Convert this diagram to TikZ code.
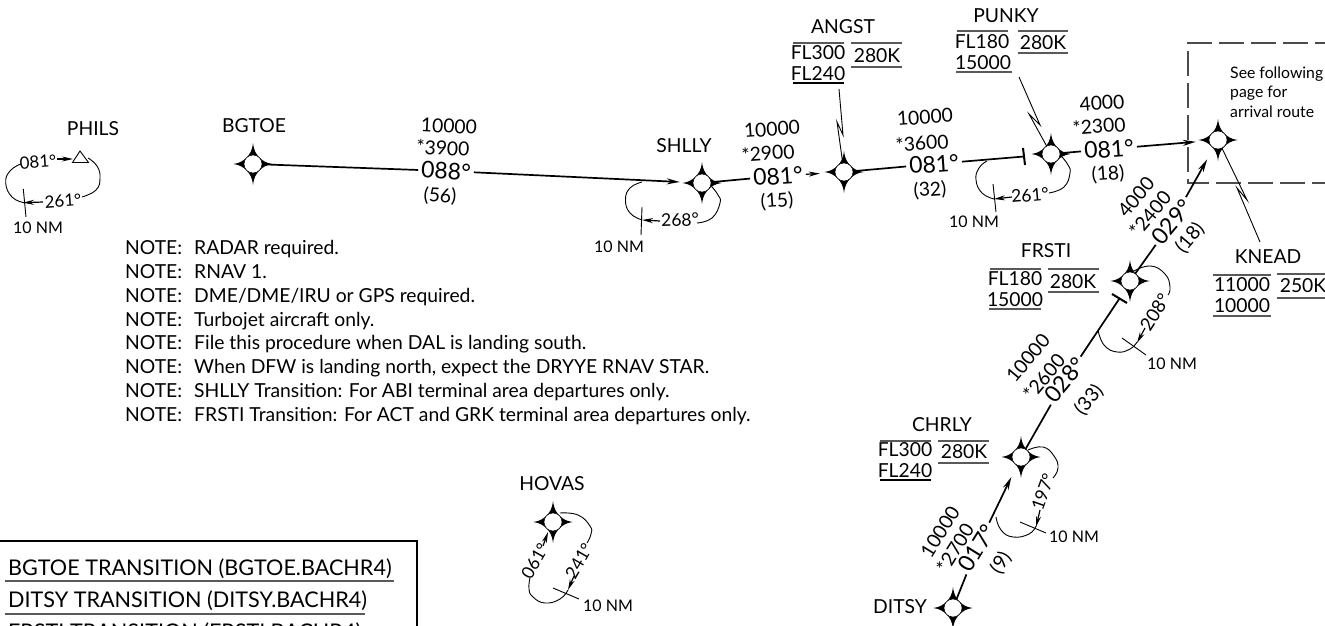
\documentclass[tikz,border=0pt]{standalone}
\usepackage{fontspec}
\setmainfont{Lato}
\usetikzlibrary{arrows.meta,calc}
\tikzset{
  lab/.style={inner sep=3pt,font=\fontsize{19.3}{24}\selectfont},
  crs/.style={inner sep=3pt,font=\fontsize{23}{26}\selectfont},
  small/.style={inner sep=1pt,font=\fontsize{17}{20}\selectfont},
  deg/.style={inner sep=1pt,font=\fontsize{17.5}{20}\selectfont},
  tiny/.style={inner sep=1pt,font=\fontsize{16}{19}\selectfont},
  wpt/.style={circle,draw=black,line width=.5pt,fill=white,minimum size=18pt,inner sep=0pt},
  leg/.style={line width=1.7pt},
  legarrow/.style={line width=1.7pt,-{Stealth[length=13pt,width=6pt]},shorten >=13pt},
  hold/.style={line width=.9pt},
  holdarrow/.style={line width=1.2pt,-{Stealth[length=11pt,width=5pt]}},
  tick/.style={line width=.9pt},
  leader/.style={line width=.9pt},
  spd/.style={line width=1.5pt,black!65},
  bar/.style={line width=2pt},
  note/.style={anchor=base west,inner sep=0pt,font=\fontsize{19.3}{23}\selectfont},
  trans/.style={anchor=base west,inner sep=0pt,font=\fontsize{21.6}{26}\selectfont},
  transline/.style={line width=1.8pt,black!65},
  route/.style={line width=1.1pt,black!70,dash pattern=on 25pt off 7pt},
}
\newcommand{\wpoint}[2]{%
  \fill[shift={#2}] (0,-21) .. controls (1,-13) and (3,-10) .. (6.5,-6.5)
    .. controls (10,-3) and (13,-1) .. (19.5,0)
    .. controls (13,1) and (10,3) .. (6.5,6.5)
    .. controls (3,10) and (1,13) .. (0,21)
    .. controls (-1,13) and (-3,10) .. (-6.5,6.5)
    .. controls (-10,3) and (-13,1) .. (-19.5,0)
    .. controls (-13,-1) and (-10,-3) .. (-6.5,-6.5)
    .. controls (-3,-10) and (-1,-13) .. (0,-21) -- cycle;
  \node[wpt] (#1) at #2 {};}
\begin{document}
\begin{tikzpicture}[x=1pt,y=-1pt]
\useasboundingbox (0,0) rectangle (1325,626);
\clip (0,0) rectangle (1325,626);
\fill[white] (0,0) rectangle (1325,626);

% dashed area
\draw[route] (1340,43) -- (1188,43) -- (1188,183) -- (1340,183);
\node[small,anchor=west,align=left,font=\fontsize{15.8}{19.5}\selectfont] (see) at (1229,92) {See following\\page for\\arrival route};

% waypoints
\wpoint{bgtoe}{(253,164)}
\wpoint{shlly}{(702,183)}
\wpoint{angst}{(844,172)}
\wpoint{punky}{(1051,154)}
\wpoint{knead}{(1218,140)}
\wpoint{frsti}{(1130,281)}
\wpoint{chrly}{(1021,457)}
\wpoint{ditsy}{(953,608)}
\wpoint{hovas}{(553,522)}
\draw[line width=.9pt,fill=white] (80,151) -- (88.5,162.5) -- (72.5,162.5) -- cycle;
\coordinate (phils) at (80,158);

% names
\node[lab] (nphils) at (93,129) {PHILS};
\node[lab] (nbgtoe) at (254,126) {BGTOE};
\node[lab] (nshlly) at (684,146) {SHLLY};
\node[lab] (nangst) at (843,27) {ANGST};
\node[lab] (npunky) at (1006,16) {PUNKY};
\node[lab] (nknead) at (1268,257) {KNEAD};
\node[lab] (nfrsti) at (1046,251) {FRSTI};
\node[lab] (nchrly) at (942,425) {CHRLY};
\node[lab] (nditsy) at (900,607) {DITSY};
\node[lab] (nhovas) at (552,484) {HOVAS};

% restriction blocks
\node[lab] (a1) at (818,53) {FL300};
\node[lab] (a2) at (818,74) {FL240};
\node[lab] (a3) at (877,56) {280K};
\draw[spd] (793,43) -- (844,43); \draw[spd,black] (793,83) -- (844,83);
\draw[spd] (851,43) -- (902,43); \draw[spd] (851,67) -- (902,67);
\node[lab] (p1) at (982,42) {FL180};
\node[lab] (p2) at (983,63) {15000};
\node[lab] (p3) at (1043,43) {280K};
\draw[spd] (957,31) -- (1008,31); \draw[spd] (956,72) -- (1012,72);
\draw[spd] (1018,31) -- (1068,31); \draw[spd] (1018,53) -- (1068,53);
\node[lab] (f1) at (1015,279) {FL180};
\node[lab] (f2) at (1015,300) {15000};
\node[lab] (f3) at (1073,282) {280K};
\draw[spd] (990,269) -- (1041,269); \draw[spd] (989,309) -- (1041,309);
\draw[spd] (1048,269) -- (1099,269); \draw[spd] (1048,292) -- (1099,292);
\node[lab] (c1) at (905,450) {FL300};
\node[lab] (c2) at (905,471) {FL240};
\node[lab] (c3) at (964,452) {280K};
\draw[spd] (880,441) -- (931,441); \draw[spd,black] (880,480) -- (931,480);
\draw[spd] (938,441) -- (989,441); \draw[spd] (938,463) -- (989,463);
\node[lab] (k1) at (1242,285) {11000};
\node[lab] (k2) at (1242,306) {10000};
\node[lab] (k3) at (1303,286) {250K};
\draw[spd] (1213,275) -- (1271,275); \draw[spd] (1213,316) -- (1271,316);
\draw[spd] (1277,274) -- (1330,274); \draw[spd] (1277,298) -- (1330,298);

% route labels
\begin{scope}[every node/.append style={lab}]
\node[rotate=-3] (b1) at (449,126) {10000};
\node[rotate=-3] (b2) at (443,148) {*3900};
\node[crs,rotate=-3] (b3) at (446,171) {088°};
\node[rotate=-3] (b4) at (440,196) {(56)};
\node[rotate=4] (s1) at (772,129) {10000};
\node[rotate=4] (s2) at (768,153) {*2900};
\node[crs,rotate=4] (s3) at (778,176) {081°};
\node[rotate=4] (s4) at (777,201) {(15)};
\node[rotate=4] (g1) at (925,117) {10000};
\node[rotate=4] (g2) at (922,143) {*3600};
\node[crs,rotate=4] (g3) at (934,164) {081°};
\node[rotate=4] (g4) at (930,190) {(32)};
\node[rotate=4] (u1) at (1102,103) {4000};
\node[rotate=4] (u2) at (1099,126) {*2300};
\node[crs,rotate=4] (u3) at (1109,149) {081°};
\node[rotate=4] (u4) at (1108,174) {(18)};
\node[rotate=50] (r1) at (1136,197) {4000};
\node[rotate=50] (r2) at (1150,214) {*2400};
\node[crs,rotate=50] (r3) at (1172,222) {029°};
\node[rotate=50] (r4) at (1190,238) {(18)};
\node[rotate=50] (t1) at (1028,358) {10000};
\node[rotate=50] (t2) at (1044,377) {*2600};
\node[crs,rotate=50] (t3) at (1065,380) {028°};
\node[rotate=50] (t4) at (1089,400) {(33)};
\node[rotate=58] (d1) at (940,532) {10000};
\node[rotate=58] (d2) at (955,548) {*2700};
\node[crs,rotate=58] (d3) at (977,548) {017°};
\node[rotate=58] (d4) at (1001,563) {(9)};
\end{scope}

% route legs
\coordinate (pbar) at (1024,156.5);
\coordinate (fbar) at (1119.5,298.5);
\draw[leg] (bgtoe) -- (b3);
\draw[legarrow] (b3) -- (shlly);
\draw[leg] (shlly) -- (s3);
\draw[line width=1.2pt,-{Stealth[length=11pt,width=5pt]},shorten >=15pt] (s3) -- (angst);
\draw[leg] (angst) -- (g3);
\draw[leg] (g3) -- (pbar);
\draw[bar] ($(pbar)+(-1,-8.5)$) -- ($(pbar)+(1,8.5)$);
\draw[leg] (punky) -- (u3);
\draw[legarrow] (u3) -- (knead);
\draw[leg] (frsti) -- (r3);
\draw[legarrow] (r3) -- (knead);
\draw[bar] ($(fbar)+(-7.5,-4.5)$) -- ($(fbar)+(7.5,4.5)$);
\draw[leg] (fbar) -- (t3);
\draw[leg] (t3) -- (chrly);
\draw[legarrow] (d3) -- (chrly);
\draw[leg] (ditsy) -- (d3);

% leaders
\coordinate (la) at (839,89); \draw[leader] (la) -- (843,135) -- (837,122) -- (angst);
\coordinate (lp) at (1019,77); \draw[leader] (lp) -- (1040,125) -- (1029,114) -- (punky);
\coordinate (lk) at (1260,242); \draw[leader] (knead) -- (1247,200) -- (1237,188) -- (lk);

% PHILS hold
\node[small,rotate=4] (h1) at (38,162) {081°};
\node[small,rotate=4] (h2) at (63,201) {261°};
\draw[holdarrow] (57,159) -- (73,159);
\draw[hold] plot[smooth,tension=.8] coordinates {(88,158) (97,166) (100,178) (96,190) (82,197)};
\draw[holdarrow] (43,202) -- (23,202.7);
\draw[hold] plot[smooth,tension=.8] coordinates {(24,202.7) (12,197) (5.7,183) (10,171) (20.7,164)};
\draw[tick] (23.3,189) -- (26,217);
\node[tiny] (h3) at (38,228) {10 NM};

% SHLLY hold
\node[deg,rotate=2] (h4) at (680,220) {268°};
\draw[hold] plot[smooth,tension=.8] coordinates {(642,182) (630,188) (625.5,200) (630,213) (642,220)};
\draw[holdarrow] (660,221) -- (642,220);
\draw[hold] plot[smooth,tension=.8] coordinates {(697,223) (712,218) (720,203) (718,195) (712,187)};
\draw[tick] (642,207) -- (641,235);
\node[tiny] (h5) at (619,247) {10 NM};

% PUNKY hold
\node[deg,rotate=5] (h6) at (1030,195) {261°};
\draw[hold] plot[smooth,tension=.8] coordinates {(987,161) (979,168) (976,180) (982,193) (994,199)};
\draw[holdarrow] (1012,197) -- (994,199);
\draw[hold] plot[smooth,tension=.8] coordinates {(1049,193) (1064,187) (1070,173) (1068,165) (1062,157)};
\draw[tick] (993,184) -- (996,212);
\node[tiny] (h7) at (974,222) {10 NM};

% FRSTI hold
\node[deg,rotate=58,font=\fontsize{18.5}{20}\selectfont] (h8) at (1155,312) {208°};
\draw[hold] plot[smooth,tension=.8] coordinates {(1132,272) (1150,266) (1165,274) (1170,287) (1168,295)};
\draw[holdarrow] (1145,328) -- (1137,343);
\draw[hold] plot[smooth,tension=.8] coordinates {(1137,342) (1130,349) (1117,352) (1104,345) (1098,330)};
\draw[tick] (1122,338) -- (1146,355);
\node[tiny] (h9) at (1172,364) {10 NM};

% CHRLY hold
\node[deg,rotate=70] (h10) at (1043,492) {197°};
\draw[hold] plot[smooth,tension=.8] coordinates {(1028,450) (1043,447) (1054,456) (1058,468) (1053,478)};
\draw[holdarrow] (1040,510) -- (1036,527);
\draw[hold] plot[smooth,tension=.8] coordinates {(1036,526) (1029,534) (1013,537) (1001,530) (996,517)};
\draw[tick] (1020,522) -- (1046,533);
\node[tiny] (h11) at (1074,537) {10 NM};

% HOVAS hold
\node[deg,rotate=60] (h12) at (535,561) {061°};
\node[deg,rotate=60] (h13) at (579,561) {241°};
\draw[holdarrow] (543,546) -- (548,532);
\draw[hold] plot[smooth,tension=.8] coordinates {(560,513) (578,515) (590,526) (591,534) (587,543)};
\draw[holdarrow] (574,576) -- (568,590);
\draw[hold] plot[smooth,tension=.8] coordinates {(568,590) (560,599) (545,603) (533,597) (529,589) (530,578)};
\draw[tick] (553,588) -- (579,599);
\node[tiny] (h14) at (608,606) {10 NM};

% notes
\node[note] (n1) at (125,254.3) {\makebox[69pt][l]{NOTE:}RADAR required.};
\node[note] (n2) at (125,278.2) {\makebox[69pt][l]{NOTE:}RNAV 1.};
\node[note] (n3) at (125,302.1) {\makebox[69pt][l]{NOTE:}DME/DME/IRU or GPS required.};
\node[note] (n4) at (125,326) {\makebox[69pt][l]{NOTE:}Turbojet aircraft only.};
\node[note] (n5) at (125,349.9) {\makebox[69pt][l]{NOTE:}File this procedure when DAL is landing south.};
\node[note] (n6) at (125,373.8) {\makebox[69pt][l]{NOTE:}When DFW is landing north, expect the DRYYE RNAV STAR.};
\node[note] (n7) at (125,397.7) {\makebox[69pt][l]{NOTE:}SHLLY Transition: For ABI terminal area departures only.};
\node[note] (n8) at (125,421.6) {\makebox[69pt][l]{NOTE:}FRSTI Transition: For ACT and GRK terminal area departures only.};

% transitions box
\draw[line width=1.1pt] (-2,541) -- (417,541) -- (417,640);
\node[trans] (t01) at (8,575) {BGTOE TRANSITION (BGTOE.BACHR4)};
\node[trans] (t02) at (8,607) {DITSY TRANSITION (DITSY.BACHR4)};
\node[trans] (t03) at (8,639) {FRSTI TRANSITION (FRSTI.BACHR4)};
\draw[transline] (5,581) -- (394,581);
\draw[transline] (5,614) -- (365,614);
\end{tikzpicture}
\end{document}
